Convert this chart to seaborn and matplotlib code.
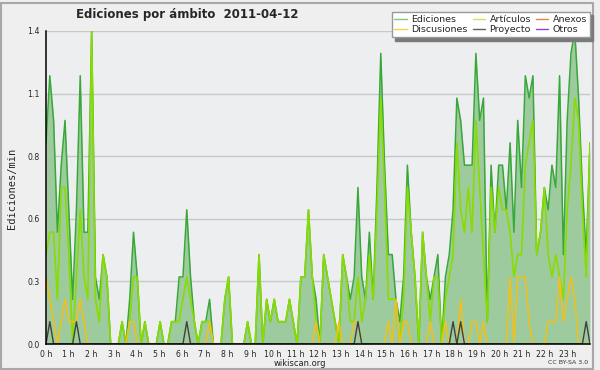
import numpy as np
import matplotlib
matplotlib.use("Agg")
import matplotlib.pyplot as plt
import seaborn as sns
from matplotlib.patches import Rectangle
from matplotlib.lines import Line2D

# Ediciones por minuto, un valor cada 10 minutos (00:00 -> 23:50)
ediciones = [
    0.9, 1.2, 1.0, 0.5, 0.8, 1.0, 0.6, 0.2, 0.6, 1.2, 0.5, 0.5,
    1.4, 0.3, 0.2, 0.4, 0.3, 0.0, 0.0, 0.0, 0.1, 0.0, 0.2, 0.5,
    0.3, 0.0, 0.1, 0.0, 0.0, 0.0, 0.1, 0.0, 0.0, 0.1, 0.1, 0.3,
    0.3, 0.6, 0.3, 0.1, 0.0, 0.1, 0.1, 0.2, 0.0, 0.0, 0.0, 0.2,
    0.3, 0.0, 0.0, 0.0, 0.0, 0.1, 0.0, 0.0, 0.4, 0.0, 0.2, 0.1,
    0.2, 0.1, 0.1, 0.1, 0.2, 0.1, 0.0, 0.3, 0.3, 0.6, 0.3, 0.2,
    0.0, 0.4, 0.3, 0.2, 0.1, 0.0, 0.4, 0.3, 0.2, 0.3, 0.7, 0.3,
    0.2, 0.5, 0.2, 0.7, 1.3, 0.8, 0.4, 0.4, 0.2, 0.1, 0.3, 0.8,
    0.5, 0.3, 0.0, 0.5, 0.3, 0.2, 0.3, 0.4, 0.0, 0.3, 0.4, 0.6,
    1.1, 1.0, 0.8, 0.8, 0.8, 1.3, 1.0, 1.1, 0.1, 0.8, 0.5, 0.8,
    0.8, 0.6, 0.9, 0.5, 1.0, 0.7, 1.2, 1.1, 1.2, 0.4, 0.5, 0.7,
    0.6, 0.8, 0.7, 1.2, 0.4, 1.0, 1.3, 1.4, 1.1, 0.7, 0.4, 0.9,
]
articulos = [
    0.4, 0.5, 0.5, 0.2, 0.7, 0.7, 0.4, 0.0, 0.3, 0.6, 0.3, 0.2,
    1.4, 0.2, 0.1, 0.4, 0.3, 0.0, 0.0, 0.0, 0.1, 0.0, 0.1, 0.3,
    0.3, 0.0, 0.1, 0.0, 0.0, 0.0, 0.1, 0.0, 0.0, 0.1, 0.1, 0.1,
    0.2, 0.3, 0.2, 0.1, 0.0, 0.1, 0.1, 0.1, 0.0, 0.0, 0.0, 0.2,
    0.3, 0.0, 0.0, 0.0, 0.0, 0.1, 0.0, 0.0, 0.4, 0.0, 0.2, 0.1,
    0.2, 0.1, 0.1, 0.1, 0.2, 0.1, 0.0, 0.3, 0.3, 0.6, 0.3, 0.1,
    0.0, 0.4, 0.3, 0.2, 0.1, 0.0, 0.4, 0.3, 0.1, 0.1, 0.3, 0.1,
    0.2, 0.4, 0.2, 0.6, 1.1, 0.7, 0.2, 0.2, 0.2, 0.0, 0.2, 0.7,
    0.5, 0.3, 0.0, 0.5, 0.3, 0.1, 0.3, 0.3, 0.0, 0.2, 0.3, 0.4,
    0.9, 0.6, 0.5, 0.7, 0.5, 1.0, 0.7, 0.4, 0.1, 0.7, 0.5, 0.7,
    0.6, 0.6, 0.5, 0.3, 0.4, 0.4, 0.8, 0.9, 1.0, 0.4, 0.5, 0.7,
    0.4, 0.3, 0.4, 0.3, 0.2, 0.6, 0.8, 1.1, 1.0, 0.6, 0.3, 0.9,
]
discusiones = [
    0.3, 0.2, 0.1, 0.0, 0.1, 0.2, 0.1, 0.1, 0.1, 0.2, 0.1, 0.0,
    0.0, 0.0, 0.0, 0.0, 0.0, 0.0, 0.0, 0.0, 0.0, 0.0, 0.1, 0.1,
    0.0, 0.0, 0.0, 0.0, 0.0, 0.0, 0.0, 0.0, 0.0, 0.0, 0.0, 0.0,
    0.0, 0.0, 0.0, 0.0, 0.0, 0.0, 0.0, 0.1, 0.0, 0.0, 0.0, 0.0,
    0.0, 0.0, 0.0, 0.0, 0.0, 0.0, 0.0, 0.0, 0.0, 0.0, 0.0, 0.0,
    0.0, 0.0, 0.0, 0.0, 0.0, 0.0, 0.0, 0.0, 0.0, 0.0, 0.0, 0.1,
    0.0, 0.0, 0.0, 0.0, 0.0, 0.1, 0.0, 0.0, 0.0, 0.1, 0.1, 0.0,
    0.0, 0.0, 0.0, 0.0, 0.0, 0.0, 0.1, 0.0, 0.2, 0.0, 0.1, 0.1,
    0.0, 0.0, 0.0, 0.0, 0.0, 0.1, 0.0, 0.0, 0.0, 0.1, 0.0, 0.0,
    0.0, 0.2, 0.0, 0.0, 0.1, 0.1, 0.0, 0.1, 0.0, 0.0, 0.0, 0.0,
    0.0, 0.0, 0.3, 0.0, 0.3, 0.3, 0.3, 0.1, 0.0, 0.0, 0.0, 0.0,
    0.1, 0.1, 0.1, 0.3, 0.1, 0.2, 0.3, 0.2, 0.0, 0.0, 0.0, 0.0,
]
proyecto = [
    0.0, 0.1, 0.0, 0.0, 0.0, 0.0, 0.0, 0.0, 0.1, 0.0, 0.0, 0.0,
    0.0, 0.0, 0.0, 0.0, 0.0, 0.0, 0.0, 0.0, 0.0, 0.0, 0.0, 0.0,
    0.0, 0.0, 0.0, 0.0, 0.0, 0.0, 0.0, 0.0, 0.0, 0.0, 0.0, 0.0,
    0.0, 0.1, 0.0, 0.0, 0.0, 0.0, 0.0, 0.0, 0.0, 0.0, 0.0, 0.0,
    0.0, 0.0, 0.0, 0.0, 0.0, 0.0, 0.0, 0.0, 0.0, 0.0, 0.0, 0.0,
    0.0, 0.0, 0.0, 0.0, 0.0, 0.0, 0.0, 0.0, 0.0, 0.0, 0.0, 0.0,
    0.0, 0.0, 0.0, 0.0, 0.0, 0.0, 0.0, 0.0, 0.0, 0.0, 0.1, 0.0,
    0.0, 0.0, 0.0, 0.0, 0.0, 0.0, 0.0, 0.0, 0.0, 0.0, 0.0, 0.0,
    0.0, 0.0, 0.0, 0.0, 0.0, 0.0, 0.0, 0.0, 0.0, 0.0, 0.0, 0.1,
    0.0, 0.1, 0.0, 0.0, 0.0, 0.0, 0.0, 0.0, 0.0, 0.0, 0.0, 0.0,
    0.0, 0.0, 0.0, 0.0, 0.0, 0.0, 0.0, 0.0, 0.0, 0.0, 0.0, 0.0,
    0.0, 0.0, 0.0, 0.0, 0.0, 0.0, 0.0, 0.0, 0.0, 0.0, 0.1, 0.0,
]
anexos = [0.0] * 144
otros = [0.0] * 144

hour_labels = [f"{h} h" for h in range(24)]
y_ticks = [0.0, 0.28, 0.56, 0.84, 1.12, 1.4]
titulo = "Ediciones por ámbito  2011-04-12"

# el eje va de 0 a 24 h y los 144 puntos lo ocupan entero
x = np.linspace(0, 24, len(ediciones))

sns.set_style("white")
plt.rcParams["font.family"] = ["DejaVu Sans"]

fig = plt.figure(figsize=(6, 3.7), dpi=100, facecolor="#efefef")
ax = fig.add_axes([46 / 600, 26 / 370, 544 / 600, 313 / 370])
ax.set_facecolor("#edeef0")

# series vacías al fondo
sns.lineplot(x=x, y=anexos, color="#f08040", lw=1, ax=ax, zorder=1)
sns.lineplot(x=x, y=otros, color="#9040e0", lw=1, ax=ax, zorder=1)

ax.fill_between(x, ediciones, color="#9ecb9e", lw=0, zorder=2)
sns.lineplot(x=x, y=ediciones, color="#38a838", lw=1.1, ax=ax, zorder=3)
sns.lineplot(x=x, y=articulos, color="#88dc00", lw=1.2, ax=ax, zorder=4)
sns.lineplot(x=x, y=discusiones, color="#f2c018", lw=1.1, ax=ax, zorder=5)
sns.lineplot(x=x, y=proyecto, color="#404040", lw=1.0, ax=ax, zorder=6)

ax.set_xlim(0, 24)
ax.set_ylim(0, 1.4)
ax.set_xticks(range(24))
ax.set_xticklabels(hour_labels)
ax.set_xticks(np.arange(0, 24.01, 1 / 6), minor=True)
ax.set_yticks(y_ticks)
ax.set_yticklabels([f"{v:.1f}" for v in y_ticks])
ax.set_yticks([0.14, 0.42, 0.70, 0.98, 1.26], minor=True)
ax.tick_params(axis="both", which="major", direction="out", length=4,
               width=0.9, labelsize=5.6, pad=0.5, color="black")
ax.tick_params(axis="both", which="minor", direction="out", length=2.5,
               width=0.8, color="black")
ax.set_xlabel("")
ax.set_ylabel("")

ax.grid(axis="y", which="major", color="#c8c8c8", lw=1)
ax.set_axisbelow(True)
for side in ["top", "right"]:
    ax.spines[side].set_visible(False)
for side in ["left", "bottom"]:
    ax.spines[side].set_color("black")
    ax.spines[side].set_linewidth(1.1)
    ax.spines[side].set_zorder(7)

fig.text(187 / 600, 1 - 18 / 370, titulo, ha="center", va="baseline",
         fontsize=8.5, fontweight="bold")
fig.text(12 / 600, 1 - 188 / 370, "Ediciones/min", rotation=90,
         ha="center", va="center", fontsize=7.5, family="DejaVu Sans Mono")
fig.text(0.5, 1 - 363 / 370, "wikiscan.org", ha="center", va="center",
         fontsize=6, color="#222222")
fig.text(588 / 600, 1 - 363 / 370, "CC BY-SA 3.0", ha="right", va="center",
         fontsize=4.5, color="#333333")

# marco de la figura
fig.patches.append(Rectangle((0.5 / 600, 1.5 / 370), 592 / 600, 366 / 370,
                             transform=fig.transFigure, fill=False,
                             edgecolor="#a8a8a8", lw=1.5))

nombres = ["Ediciones", "Discusiones", "Artículos", "Proyecto", "Anexos", "Otros"]
colores = ["#80c880", "#f8d040", "#c8ec50", "#606060", "#f08040", "#9040e0"]
handles = [Line2D([0], [0], color=c, lw=1) for c in colores]
leg = fig.legend(handles, nombres, ncol=3, loc="upper right",
                 bbox_to_anchor=(590 / 600, 1 - 12 / 370), fontsize=6.8,
                 frameon=True, fancybox=False,
                 shadow={"color": "#7a7a7a", "alpha": 1, "ox": 2.5, "oy": -2.5},
                 handlelength=1.3, handletextpad=0.5, columnspacing=0.5,
                 labelspacing=0.15, borderpad=0.3, borderaxespad=0)
leg.get_frame().set_edgecolor("#999999")
leg.get_frame().set_facecolor("white")
leg.get_frame().set_alpha(1)

fig.savefig("out.png", dpi=100, facecolor=fig.get_facecolor())
